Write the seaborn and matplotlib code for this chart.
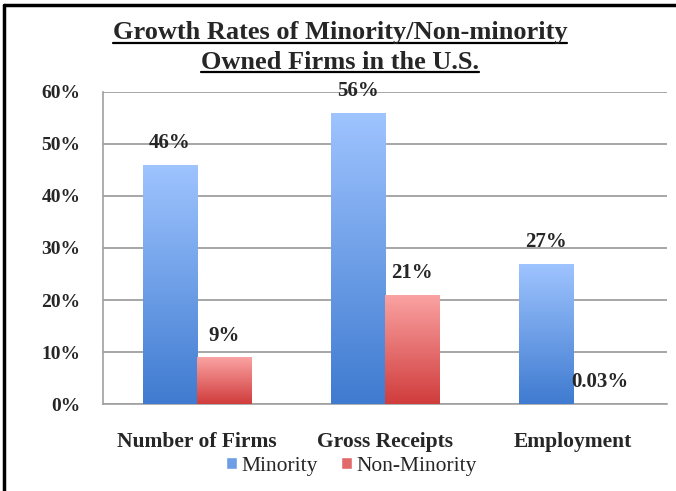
import numpy as np
import pandas as pd
import matplotlib
matplotlib.use("Agg")
import matplotlib.pyplot as plt
import seaborn as sns
from matplotlib.colors import LinearSegmentedColormap
from matplotlib.lines import Line2D
from matplotlib.patches import Patch

categories = ["Number of Firms", "Gross Receipts", "Employment"]
minority = [46, 56, 27]
non_minority = [9, 21, 0.03]
label_text = {"Minority": ["46%", "56%", "27%"], "Non-Minority": ["9%", "21%", "0.03%"]}
yticks = [0, 10, 20, 30, 40, 50, 60]

df = pd.DataFrame({
    "category": categories * 2,
    "value": minority + non_minority,
    "group": ["Minority"] * 3 + ["Non-Minority"] * 3,
})

sns.set_style("white")
plt.rcParams["font.family"] = ["Liberation Serif", "DejaVu Serif"]

fig = plt.figure(figsize=(6.76, 4.91), dpi=100)
ax = fig.add_axes([0.152, 0.177, 0.835, 0.636])

blue_mid = "#6d9de6"
red_mid = "#e26a6a"
sns.barplot(data=df, x="category", y="value", hue="group", order=categories,
            hue_order=["Minority", "Non-Minority"], palette=[blue_mid, red_mid],
            width=0.575, gap=0, ax=ax, legend=False, zorder=3)

# gradient fill on each bar (light at top, darker at bottom)
cmaps = {
    "Minority": LinearSegmentedColormap.from_list("b", ["#3f7bd0", "#9fc4ff"]),
    "Non-Minority": LinearSegmentedColormap.from_list("r", ["#d03c3c", "#fba3a3"]),
}
grad = np.linspace(0, 1, 256).reshape(-1, 1)
bars = [p for p in ax.patches]
groups = ["Minority"] * 3 + ["Non-Minority"] * 3
for p, g in zip(bars, groups):
    x0, y0 = p.get_x(), p.get_y()
    w, h = p.get_width(), p.get_height()
    if h <= 0:
        continue
    im = ax.imshow(grad, extent=[x0, x0 + w, y0, y0 + h], origin="lower",
                   aspect="auto", cmap=cmaps[g], zorder=3, interpolation="bilinear")
    im.set_clip_path(p)
    p.set_facecolor("none")
    p.set_edgecolor("none")

# data labels
for p, g, i in zip(bars, groups, [0, 1, 2, 0, 1, 2]):
    cx = p.get_x() + p.get_width() / 2
    ax.annotate(label_text[g][i], (cx, p.get_height()), xytext=(0, 12),
                textcoords="offset points", ha="center", va="baseline",
                fontsize=15, fontweight="bold", zorder=5)

ax.set_xlim(-0.5, 2.5)
ax.set_ylim(0, 60)
ax.set_yticks(yticks)
ax.set_yticklabels([f"{v}%" for v in yticks], fontsize=14, fontweight="bold")
ax.set_xticks(range(3))
ax.set_xticklabels(categories, fontsize=15.5, fontweight="bold")
ax.set_xticks([-0.5, 0.5, 1.5, 2.5], minor=True)
ax.tick_params(axis="x", which="major", length=0, pad=20)
ax.tick_params(axis="x", which="minor", length=6, width=1, color="#a0a0a0", direction="out")
ax.tick_params(axis="y", length=6, width=1, color="#a0a0a0", direction="out", pad=10)
ax.set_xlabel("")
ax.set_ylabel("")
ax.grid(axis="y", color="#a6a6a6", linewidth=1.4, zorder=0)
ax.set_axisbelow(True)
for s in ["top", "right"]:
    ax.spines[s].set_visible(False)
for s in ["left", "bottom"]:
    ax.spines[s].set_color("#a0a0a0")
    ax.spines[s].set_linewidth(1.2)

handles = [Patch(facecolor=blue_mid, label="Minority"),
           Patch(facecolor=red_mid, label="Non-Minority")]
fig.legend(handles=handles, loc="center", bbox_to_anchor=(0.52, 0.05), ncol=2,
           frameon=False, prop={"family": "Liberation Serif", "size": 15.5},
           handlelength=0.5, handleheight=0.5, handletextpad=0.2, columnspacing=1.1)

# title with underline
t1 = fig.text(0.503, 0.933, "Growth Rates of Minority/Non-minority", ha="center",
              va="center", fontsize=19, fontweight="bold")
t2 = fig.text(0.503, 0.873, "Owned Firms in the U.S.", ha="center",
              va="center", fontsize=19, fontweight="bold")
fig.canvas.draw()
r = fig.canvas.get_renderer()
for t in (t1, t2):
    bb = t.get_window_extent(r).transformed(fig.transFigure.inverted())
    yline = bb.y0 + 0.003
    fig.add_artist(Line2D([bb.x0, bb.x1], [yline, yline], color="black",
                          linewidth=1.6, transform=fig.transFigure))

# outer frame (left and top edges visible)
fig.add_artist(Line2D([0.006, 0.006], [0, 0.99], color="black", linewidth=2.5,
                      transform=fig.transFigure))
fig.add_artist(Line2D([0.006, 1.0], [0.99, 0.99], color="black", linewidth=2.5,
                      transform=fig.transFigure))

fig.savefig("out.png", dpi=100)
